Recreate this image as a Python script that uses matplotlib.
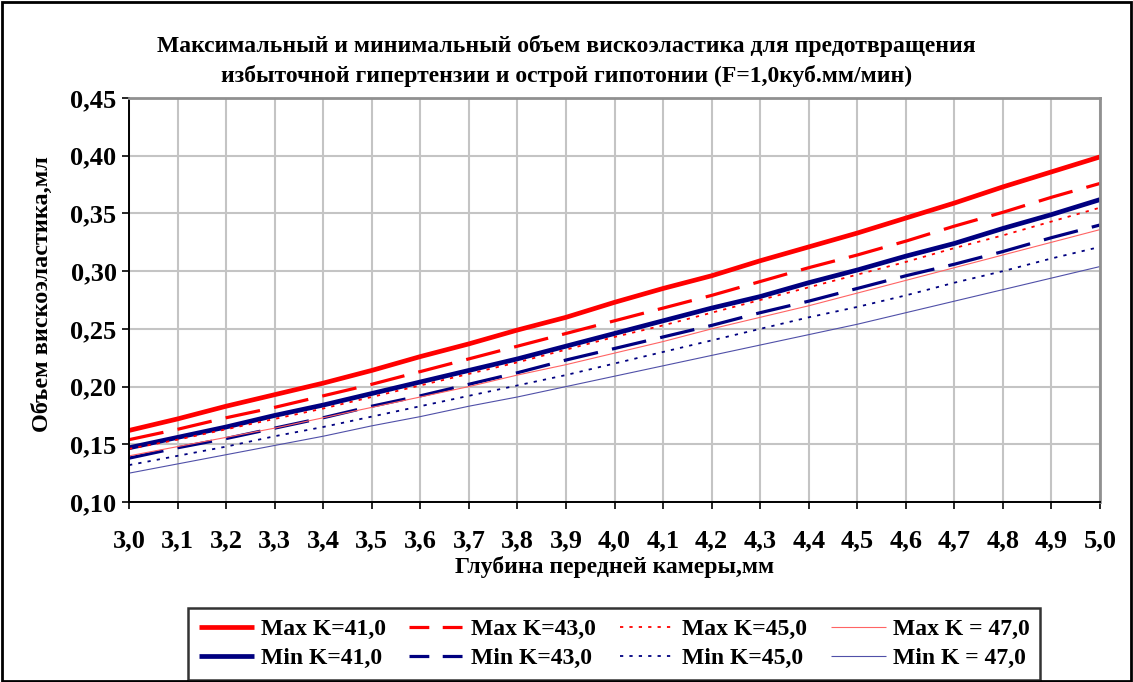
import matplotlib
matplotlib.use("Agg")
import matplotlib.pyplot as plt
from matplotlib.patches import Rectangle
from matplotlib.lines import Line2D

plt.rcParams['font.family'] = ['Liberation Serif', 'DejaVu Serif']
plt.rcParams['font.weight'] = 'bold'

depth = [3.0, 3.1, 3.2, 3.3, 3.4, 3.5, 3.6, 3.7, 3.8, 3.9, 4.0,
         4.1, 4.2, 4.3, 4.4, 4.5, 4.6, 4.7, 4.8, 4.9, 5.0]

max_k41 = [0.162, 0.172, 0.183, 0.193, 0.203, 0.214, 0.226, 0.237, 0.249, 0.260, 0.273,
           0.285, 0.296, 0.309, 0.321, 0.333, 0.346, 0.359, 0.373, 0.386, 0.399]
max_k43 = [0.154, 0.163, 0.173, 0.182, 0.192, 0.202, 0.213, 0.224, 0.235, 0.246, 0.257,
           0.268, 0.279, 0.291, 0.303, 0.314, 0.326, 0.339, 0.351, 0.364, 0.376]
max_k45 = [0.146, 0.154, 0.163, 0.172, 0.181, 0.191, 0.201, 0.211, 0.221, 0.232, 0.243,
           0.253, 0.264, 0.275, 0.286, 0.297, 0.308, 0.320, 0.331, 0.343, 0.355]
max_k47 = [0.140, 0.148, 0.156, 0.164, 0.173, 0.182, 0.191, 0.200, 0.210, 0.219, 0.229,
           0.239, 0.250, 0.260, 0.270, 0.281, 0.292, 0.303, 0.314, 0.325, 0.336]
min_k41 = [0.147, 0.156, 0.165, 0.175, 0.184, 0.194, 0.204, 0.214, 0.224, 0.235, 0.246,
           0.257, 0.268, 0.278, 0.290, 0.301, 0.313, 0.324, 0.337, 0.349, 0.362]
min_k43 = [0.138, 0.147, 0.155, 0.164, 0.173, 0.183, 0.192, 0.202, 0.212, 0.223, 0.233,
           0.243, 0.253, 0.264, 0.274, 0.285, 0.296, 0.306, 0.317, 0.329, 0.340]
min_k45 = [0.132, 0.140, 0.148, 0.157, 0.165, 0.174, 0.183, 0.192, 0.201, 0.210, 0.220,
           0.230, 0.240, 0.250, 0.260, 0.269, 0.279, 0.290, 0.300, 0.311, 0.321]
min_k47 = [0.125, 0.133, 0.141, 0.149, 0.157, 0.166, 0.174, 0.183, 0.191, 0.200, 0.209,
           0.218, 0.227, 0.236, 0.245, 0.254, 0.264, 0.274, 0.284, 0.294, 0.304]

x_ticks = [3.0, 3.1, 3.2, 3.3, 3.4, 3.5, 3.6, 3.7, 3.8, 3.9, 4.0,
           4.1, 4.2, 4.3, 4.4, 4.5, 4.6, 4.7, 4.8, 4.9, 5.0]
y_ticks = [0.10, 0.15, 0.20, 0.25, 0.30, 0.35, 0.40, 0.45]

RED = '#FF0000'
NAVY = '#000080'
DASH = (0, (11, 4.5))
DASH_KEY = (0, (6.2, 4.2))
DOT = (0, (1.8, 3.4))

fig = plt.figure(figsize=(11.33, 6.82), dpi=100)
ax = fig.add_axes([0.1139, 0.2639, 0.857, 0.5924])

# label, values, colour, width, plot style, legend-key style
series = [
    ('Max K=41,0', max_k41, RED, 3.4, '-', '-'),
    ('Min K=41,0', min_k41, NAVY, 3.4, '-', '-'),
    ('Max K=43,0', max_k43, RED, 2.3, DASH, DASH_KEY),
    ('Min K=43,0', min_k43, NAVY, 2.3, DASH, DASH_KEY),
    ('Max K=45,0', max_k45, RED, 1.3, DOT, DOT),
    ('Min K=45,0', min_k45, NAVY, 1.3, DOT, DOT),
    ('Max K = 47,0', max_k47, '#FF6464', 0.8, '-', '-'),
    ('Min K = 47,0', min_k47, '#5050A8', 0.8, '-', '-'),
]
handles = []
for label, vals, color, lw, ls, key_ls in series:
    ax.plot(depth, vals, color=color, lw=lw, ls=ls,
            solid_capstyle='butt', dash_capstyle='butt')
    handles.append(Line2D([], [], color=color, lw=lw, ls=key_ls, label=label,
                          solid_capstyle='butt', dash_capstyle='butt'))

ax.set_xlim(3.0, 5.0)
ax.set_ylim(0.10, 0.45)
ax.set_xticks(x_ticks)
ax.set_yticks(y_ticks)
ax.set_xticklabels([f"{v:.1f}".replace('.', ',') for v in x_ticks])
ax.set_yticklabels([f"{v:.2f}".replace('.', ',') for v in y_ticks])
ax.tick_params(axis='both', direction='out', length=5, width=1.2, labelsize=19)
ax.tick_params(axis='x', pad=15)
ax.tick_params(axis='y', pad=4)
for lab in ax.get_xticklabels() + ax.get_yticklabels():
    lab.set_fontweight('bold')

ax.grid(True, color='#C4C4C4', lw=1.5)
ax.set_axisbelow(True)
for side in ('top', 'right'):
    ax.spines[side].set_color('#909090')
    ax.spines[side].set_linewidth(2)
for side in ('left', 'bottom'):
    ax.spines[side].set_color('black')
    ax.spines[side].set_linewidth(1.4)

ax.set_xlabel('Глубина передней камеры,мм', fontsize=17, fontweight='bold')
ax.xaxis.label.set_va('center')
ax.xaxis.set_label_coords(0.5, -0.161)
ax.set_ylabel('Объем вискоэластика,мл', fontsize=17.5, fontweight='bold')
ax.yaxis.label.set_va('center')
ax.yaxis.set_label_coords(-0.0896, 0.515)

fig.text(0.5, 0.933, 'Максимальный и минимальный объем вискоэластика для предотвращения',
         ha='center', va='center', fontsize=17, fontweight='bold')
fig.text(0.5, 0.889, 'избыточной гипертензии и острой гипотонии (F=1,0куб.мм/мин)',
         ha='center', va='center', fontsize=17, fontweight='bold')

leg = fig.legend(handles=handles, loc='lower left',
                 bbox_to_anchor=(188 / 1133, 2 / 682), ncol=4,
                 frameon=True, fancybox=False, edgecolor='black',
                 prop={'size': 17, 'weight': 'bold', 'family': 'Liberation Serif'},
                 handlelength=2.33, columnspacing=1.0, handletextpad=0.3,
                 labelspacing=0.32, borderpad=0.45, borderaxespad=0)
leg.get_frame().set_linewidth(1.8)

fig.patches.append(Rectangle((0.0015, 0.002), 0.997, 0.995, transform=fig.transFigure,
                             fill=False, edgecolor='black', lw=2))

fig.savefig('out.png', dpi=100)
